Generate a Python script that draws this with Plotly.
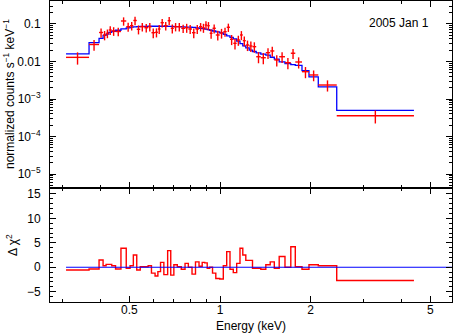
import numpy as np
import plotly.graph_objects as go
from plotly.subplots import make_subplots

# Energy bin edges (keV)
EDGES = [0.3078, 0.3671, 0.3963, 0.4087, 0.4182, 0.4268, 0.4367, 0.4496, 0.4686, 0.4880,
         0.5024, 0.5152, 0.5288, 0.5431, 0.5605, 0.5770, 0.5918, 0.6084, 0.6216, 0.6344,
         0.6507, 0.6699, 0.6859, 0.7024, 0.7214, 0.7434, 0.7652, 0.7848, 0.8072, 0.8290,
         0.8516, 0.8726, 0.8896, 0.9067, 0.9243, 0.9443, 0.9683, 0.9980, 1.0256, 1.0526,
         1.0794, 1.1070, 1.1362, 1.1652, 1.1905, 1.2182, 1.2504, 1.2823, 1.3191, 1.3664,
         1.4198, 1.4684, 1.5152, 1.5730, 1.6441, 1.7191, 1.7790, 1.8727, 1.9754, 2.1212,
         2.4429, 4.411]

# Observed counts s^-1 keV^-1
DATA = [0.0129, 0.0284, 0.0593, 0.0509, 0.0565, 0.0692, 0.0651, 0.0631, 0.1202, 0.0847,
        0.0901, 0.124, 0.0722, 0.0847, 0.0796, 0.0847, 0.0586, 0.0601, 0.0736, 0.1083,
        0.0901, 0.1225, 0.0768, 0.0847, 0.0847, 0.0768, 0.0796, 0.0736, 0.0586, 0.0736,
        0.0847, 0.0796, 0.094, 0.0901, 0.0565, 0.0768, 0.0509, 0.0575, 0.0624, 0.0817,
        0.0391, 0.0305, 0.0374, 0.0509, 0.0359, 0.0275, 0.0259, 0.0248, 0.0134, 0.0126,
        0.0172, 0.0191, 0.0110, 0.0134, 0.0093, 0.0166, 0.0097, 0.00535, 0.00437, 0.00236,
        0.000359]

# Relative 1-sigma errors on the data
REL_ERR = [0.36, 0.32, 0.28, 0.28, 0.26, 0.26, 0.26, 0.25, 0.25, 0.27,
           0.25, 0.25, 0.27, 0.25, 0.25, 0.25, 0.29, 0.27, 0.27, 0.25,
           0.25, 0.25, 0.27, 0.25, 0.25, 0.25, 0.27, 0.27, 0.29, 0.27,
           0.25, 0.27, 0.25, 0.25, 0.29, 0.27, 0.29, 0.29, 0.27, 0.25,
           0.3, 0.31, 0.3, 0.27, 0.3, 0.31, 0.31, 0.31, 0.33, 0.33,
           0.32, 0.3, 0.33, 0.32, 0.33, 0.3, 0.33, 0.33, 0.32, 0.33, 0.38]

# Folded model
MODEL = [0.0159, 0.0317, 0.0415, 0.050, 0.054, 0.060, 0.064, 0.068, 0.074, 0.079,
         0.082, 0.084, 0.085, 0.086, 0.086, 0.087, 0.087, 0.087, 0.087, 0.087,
         0.087, 0.086, 0.086, 0.085, 0.085, 0.084, 0.083, 0.082, 0.081, 0.079,
         0.077, 0.075, 0.073, 0.071, 0.068, 0.065, 0.062, 0.058, 0.053, 0.048,
         0.044, 0.040, 0.035, 0.030, 0.026, 0.023, 0.020, 0.0185, 0.0170, 0.0158,
         0.0148, 0.0130, 0.0115, 0.0098, 0.0088, 0.0083, 0.0079, 0.0057, 0.0039, 0.0021,
         0.00050]

# Signed delta chi^2 contributions
DCHI = [-0.55, -0.35, 1.5, 0.3, 0.6, 0.6, 0.3, -0.35, 3.9, -0.2,
        0.3, 2.5, -0.55, 0.1, 0.1, 0.3, -1.2, -1.8, -0.9, 1.0,
        -1.5, 3.4, -1.6, 0.5, 0.1, -0.4, 0.8, 0.0, -1.4, 1.1,
        0.2, 1.0, 0.9, -0.2, 0.0, -1.2, -2.3, -2.4, 0.3, 3.2,
        -0.4, -1.1, 0.8, 3.9, 2.5, 1.4, 1.4, -0.2, -0.2, -0.4,
        0.5, 1.1, -0.2, 2.2, 0.0, 4.2, 0.1, -0.4, 0.5, 0.3, -2.7]

X_MAJOR = [0.5, 1, 2, 5]
X_MINOR = [0.3, 0.4, 0.6, 0.7, 0.8, 0.9, 3, 4]
Y_MAJOR = [1e-5, 1e-4, 1e-3, 0.01, 0.1]
Y_LABELS = ["10<sup>\u22125</sup>", "10<sup>\u22124</sup>", "10<sup>\u22123</sup>", "0.01", "0.1"]
Y_MINOR = [m * 10.0 ** e for e in range(-6, 0) for m in range(2, 10)]

FONT = "Liberation Sans, Arial, Helvetica, sans-serif"
RED = "#ff0000"
BLUE = "#0000ff"

lo = np.array(EDGES[:-1])
hi = np.array(EDGES[1:])
xc = np.sqrt(lo * hi)
data = np.array(DATA)

fig = make_subplots(rows=2, cols=1, shared_xaxes=True, vertical_spacing=0,
                    row_heights=[0.6213, 0.3787])

fig.add_trace(go.Scatter(
    x=EDGES, y=MODEL + [MODEL[-1]], mode="lines", line_shape="hv",
    line=dict(color=BLUE, width=1.3), hoverinfo="skip"), row=1, col=1)

fig.add_trace(go.Scatter(
    x=xc, y=data, mode="markers",
    marker=dict(size=1, color="rgba(0,0,0,0)"),
    error_x=dict(type="data", symmetric=False, array=hi - xc, arrayminus=xc - lo,
                 color=RED, thickness=1.4, width=0),
    error_y=dict(type="data", array=data * np.array(REL_ERR),
                 color=RED, thickness=1.4, width=0)), row=1, col=1)

fig.add_trace(go.Scatter(
    x=EDGES, y=DCHI + [DCHI[-1]], mode="lines", line_shape="hv",
    line=dict(color=RED, width=1.4)), row=2, col=1)

fig.add_trace(go.Scatter(
    x=[EDGES[0], 6.0], y=[0, 0], mode="lines",
    line=dict(color=BLUE, width=1.2)), row=2, col=1)

axis_common = dict(showline=True, linecolor="black", linewidth=1, mirror="ticks",
                   ticks="inside", ticklen=6, tickcolor="black", showgrid=False,
                   zeroline=False, automargin=False,
                   tickfont=dict(size=12, color="black"))

for r in (1, 2):
    fig.update_xaxes(type="log", range=[-0.565, 0.771], tickmode="array",
                     tickvals=X_MAJOR, ticktext=["0.5", "1", "2", "5"],
                     minor=dict(tickmode="array", tickvals=X_MINOR, ticks="inside",
                                ticklen=3, tickcolor="black"),
                     row=r, col=1, **axis_common)

fig.update_xaxes(showticklabels=False, row=1, col=1)
fig.update_xaxes(ticklabelstandoff=-3, row=2, col=1)

fig.update_yaxes(type="log", range=[-5.373, -0.387], tickmode="array",
                 tickvals=Y_MAJOR, ticktext=Y_LABELS, ticklabelstandoff=6,
                 minor=dict(tickmode="array", tickvals=Y_MINOR, ticks="inside",
                            ticklen=3, tickcolor="black"),
                 row=1, col=1, **axis_common)

fig.update_yaxes(range=[-7.1, 16.2], tickmode="array", tickvals=[-5, 0, 5, 10, 15],
                 ticklabelstandoff=6,
                 minor=dict(dtick=1, ticks="inside", ticklen=3, tickcolor="black"),
                 row=2, col=1, **axis_common)

fig.add_annotation(text="normalized counts s<sup>\u22121</sup> keV<sup>\u22121</sup>",
                   textangle=-90, xref="paper", yref="paper",
                   x=(9 - 50) / 402, y=(302 - 94) / 301,
                   xanchor="center", yanchor="middle", showarrow=False,
                   font=dict(size=12, color="black"))
fig.add_annotation(text="\u0394 \u03c7<sup>2</sup>",
                   textangle=-90, xref="paper", yref="paper",
                   x=(12 - 50) / 402, y=(302 - 245) / 301,
                   xanchor="center", yanchor="middle", showarrow=False,
                   font=dict(size=12, color="black"))
fig.add_annotation(text="Energy (keV)", xref="paper", yref="paper",
                   x=0.5, y=(302 - 326) / 301,
                   xanchor="center", yanchor="middle", showarrow=False,
                   font=dict(size=12, color="black"))
fig.add_annotation(text="2005 Jan 1", xref="paper", yref="paper",
                   x=(431 - 50) / 402, y=(302 - 23) / 301,
                   xanchor="right", yanchor="middle", showarrow=False,
                   font=dict(size=12, color="black"))

fig.update_layout(
    width=456, height=333,
    margin=dict(l=50, r=4, t=1, b=31),
    paper_bgcolor="white", plot_bgcolor="white",
    showlegend=False,
    font=dict(family=FONT, size=12, color="black"),
)

# the page body has a default 8px margin; remove it so the figure sits at 0,0
fig.write_html("out.html", config={"displayModeBar": False},
               post_script="document.body.style.margin='0';")
